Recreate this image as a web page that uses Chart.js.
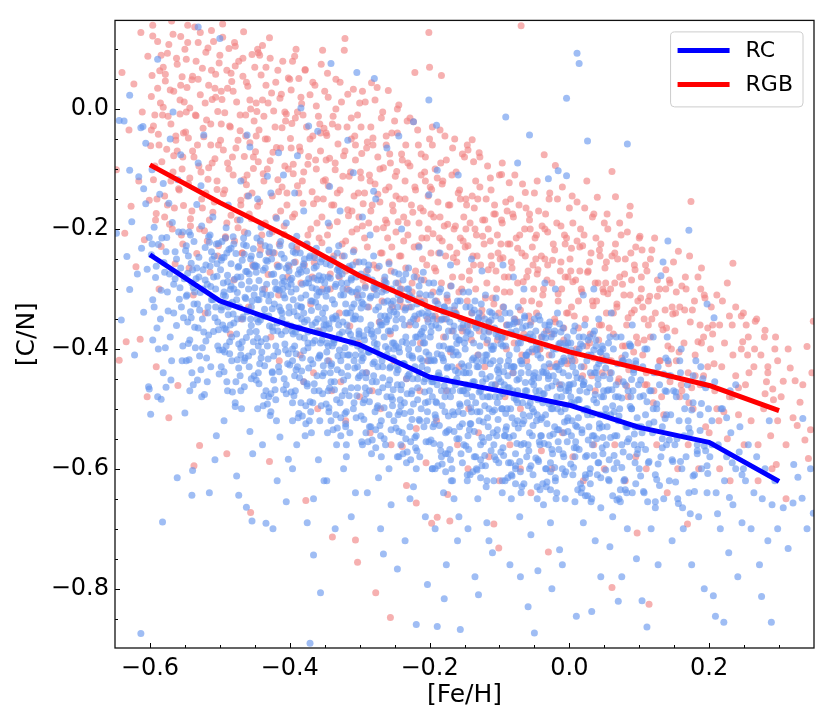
<!DOCTYPE html>
<html><head><meta charset="utf-8">
<script src="https://cdn.jsdelivr.net/npm/chart.js@4.4.0/dist/chart.umd.min.js"></script>
<style>html,body{margin:0;padding:0;background:#fff;}#wrap{width:830px;height:727px;}</style>
</head><body>
<div id="wrap"><canvas id="c" width="830" height="727"></canvas></div>
<script>
// ---- binned mean trends ----
const fehBins = [-0.6,-0.5,-0.4,-0.3,-0.2,-0.1,0.0,0.1,0.2,0.3];
const rcMean  = [-0.243,-0.320,-0.361,-0.393,-0.447,-0.470,-0.494,-0.531,-0.556,-0.621];
const rgbMean = [-0.093,-0.156,-0.214,-0.278,-0.330,-0.370,-0.405,-0.433,-0.461,-0.503];
const seriesNames = ['RC','RGB'];
const xMajorTicks = [-0.6,-0.4,-0.2,0.0,0.2];
const yMajorTicks = [-0.8,-0.6,-0.4,-0.2,0.0];
const axisTitles = ['[Fe/H]','[C/N]'];

// ---- individual stars, flat [Fe/H],[C/N] pairs ----
const rgbStars = [
-.648,-.101,-.644,-.419,-.640,.061,-.636,-.207,-.634,-.388,-.630,-.035,-.627,-.162,-.623,.042,-.620,-.263,-.616,-.120,-.614,-.384,-.611,-.005,-.608,-.218,-.604,-.480,-.603,.088,-.601,-.152,-.613,.128,
-.599,-.061,-.598,.021,-.596,.122,-.595,-.118,-.593,-.010,-.591,-.174,-.589,.113,-.588,-.042,-.586,.064,-.584,-.229,-.583,-.088,-.581,.003,-.579,-.145,-.578,.047,-.576,-.067,-.575,.093,-.573,.108,-.572,-.192,-.570,-.025,-.569,.147,-.567,-.105,-.566,.030,-.564,-.258,-.563,-.052,-.561,.075,-.560,-.461,-.559,-.133,-.557,-.008,-.556,.121,-.555,-.210,-.554,.054,-.553,-.080,-.552,-.161,-.551,.012,-.591,-.430,-.573,-.515,-.587,-.300,
-.549,-.038,-.548,.083,-.546,.111,-.545,-.124,-.543,.002,-.542,-.183,-.540,.049,-.539,-.070,-.537,-.595,-.536,.137,-.534,-.011,-.533,-.241,-.531,.111,-.530,-.095,-.529,-.561,-.528,.024,-.526,-.150,-.525,.068,-.523,-.046,-.522,-.203,-.520,.095,-.519,-.018,-.517,-.117,-.516,.040,-.514,-.272,-.513,-.060,-.511,.016,-.510,-.172,-.509,.113,-.507,-.083,-.506,.058,-.504,-.134,-.503,-.004,-.502,-.228,-.501,.077,-.538,-.310,-.521,-.340,-.512,.131,-.544,-.265,-.527,-.105,
-.499,-.052,-.498,.030,-.496,.142,-.495,-.141,-.493,-.006,-.492,-.213,-.490,.065,-.490,-.575,-.489,-.090,-.487,.101,-.486,-.028,-.484,-.177,-.483,.046,-.481,-.110,-.480,-.285,-.479,.111,-.477,-.065,-.476,.012,-.474,-.198,-.473,.080,-.471,-.036,-.470,-.152,-.468,-.240,-.467,.055,-.466,.129,-.465,-.079,-.463,-.010,-.462,-.126,-.460,.038,-.459,-.330,-.457,-.056,-.456,-.673,-.455,-.183,-.454,.091,-.452,-.099,-.451,-.020,-.450,-.263,-.485,-.375,-.469,-.350,-.478,.072,-.461,-.145,
-.449,-.071,-.448,.010,-.446,-.162,-.445,.094,-.444,-.035,-.442,-.225,-.441,.057,-.439,.106,-.438,-.108,-.437,-.012,-.435,-.190,-.434,.070,-.432,-.050,-.431,-.276,-.429,.119,-.429,-.588,-.428,-.086,-.426,.027,-.425,-.145,-.423,-.003,-.422,-.240,-.420,.045,-.419,-.064,-.417,-.118,-.416,-.310,-.414,.018,-.413,-.170,-.411,-.031,-.410,.080,-.408,-.209,-.407,-.095,-.405,-.008,-.404,-.140,-.403,-.360,-.402,.052,-.401,-.262,-.427,-.380,-.415,-.420,-.443,.090,-.436,-.300,
-.399,-.049,-.398,.032,-.396,-.180,-.395,-.092,-.393,.088,-.392,-.015,-.390,-.234,-.389,-.128,-.387,.051,-.386,-.063,-.384,-.290,-.383,.009,-.381,-.157,-.380,-.105,-.378,.066,-.377,-.653,-.376,-.030,-.374,-.210,-.373,-.079,-.371,.024,-.370,-.325,-.368,-.138,-.367,-.045,-.365,-.256,-.364,.040,-.362,-.100,-.361,-.190,-.359,-.012,-.358,-.370,-.356,-.070,-.355,.075,-.354,-.223,-.353,.098,-.352,-.150,-.351,-.032,-.385,-.410,-.366,-.440,-.391,.100,
-.349,-.118,-.348,-.040,-.346,-.210,-.345,.020,-.343,-.082,-.342,-.300,-.340,-.160,-.339,-.714,-.338,-.012,-.337,-.245,-.335,-.101,-.334,.050,-.332,-.188,-.331,-.058,-.329,-.340,-.328,-.135,-.326,.012,-.325,-.225,-.323,-.078,-.322,.098,-.321,.118,-.320,-.270,-.318,-.030,-.317,-.168,-.315,-.112,-.314,-.362,-.312,-.050,-.311,-.205,-.309,.033,-.308,-.145,-.306,-.719,-.306,-.085,-.305,-.255,-.303,-.756,-.303,-.010,-.302,-.390,-.301,-.180,-.344,-.420,-.327,-.455,
-.299,-.105,-.298,-.030,-.296,-.195,-.295,-.285,-.293,-.140,-.292,.012,-.290,-.065,-.289,-.230,-.287,-.330,-.286,-.110,-.284,-.170,-.283,.044,-.281,-.048,-.280,-.260,-.278,-.125,-.277,-.807,-.276,-.200,-.275,.036,-.274,-.080,-.272,-.355,-.271,-.155,-.269,-.015,-.268,-.240,-.266,-.098,-.265,-.300,-.263,-.185,-.262,-.060,-.260,-.215,-.259,.031,-.258,-.130,-.256,-.848,-.256,-.375,-.255,-.270,-.254,-.040,-.253,-.160,-.251,-.420,-.291,-.440,-.282,-.470,
-.249,-.112,-.248,-.205,-.246,-.040,-.245,-.290,-.244,.007,-.243,-.150,-.241,-.245,-.240,-.075,-.238,-.330,-.237,-.180,-.235,-.120,-.234,-.265,-.232,-.020,-.231,-.210,-.229,-.360,-.228,-.095,-.226,-.160,-.225,-.305,-.223,-.021,-.222,-.230,-.221,.061,-.220,-.135,-.219,-.657,-.218,-.280,-.216,-.060,-.215,-.190,-.213,-.390,-.212,-.110,-.210,-.250,-.209,-.170,-.207,-.320,-.206,-.080,-.204,-.215,-.203,-.420,-.202,-.145,-.201,.128,-.200,.070,-.233,-.450,-.214,-.470,
-.199,-.130,-.198,-.240,-.197,-.691,-.196,-.060,-.195,-.305,-.194,-.180,-.192,-.100,-.191,-.270,-.189,-.681,-.189,-.350,-.188,-.155,-.186,-.215,-.185,-.035,-.183,.056,-.183,-.290,-.182,-.125,-.180,-.380,-.179,-.195,-.177,-.245,-.176,-.085,-.174,-.320,-.173,-.160,-.171,-.687,-.171,-.230,-.170,-.405,-.168,-.110,-.167,-.280,-.165,-.200,-.164,-.050,-.162,-.340,-.161,-.255,-.159,-.140,-.158,-.430,-.156,-.215,-.154,-.300,-.153,-.075,-.152,-.365,-.151,-.180,-.176,-.470,
-.149,-.230,-.148,-.150,-.146,-.320,-.145,-.068,-.143,-.270,-.142,-.190,-.140,-.385,-.139,-.051,-.138,-.245,-.137,-.088,-.136,-.165,-.134,-.300,-.133,-.210,-.131,-.410,-.129,-.073,-.128,-.130,-.127,-.260,-.125,-.345,-.124,-.185,-.122,-.225,-.121,-.430,-.119,-.150,-.118,-.290,-.116,-.200,-.115,-.370,-.113,-.115,-.112,-.245,-.110,-.315,-.108,-.692,-.108,-.175,-.106,-.460,-.105,-.270,-.103,-.210,-.101,-.732,-.101,-.340,-.144,-.500,
-.099,-.250,-.097,-.109,-.096,-.190,-.095,-.330,-.093,-.280,-.091,-.155,-.090,-.400,-.088,-.225,-.086,-.123,-.085,-.305,-.083,-.255,-.081,-.440,-.080,-.180,-.078,-.350,-.076,-.215,-.074,-.290,-.072,-.160,-.071,-.380,-.069,.139,-.068,-.240,-.066,-.320,-.064,-.200,-.063,-.139,-.061,-.420,-.059,-.270,-.057,-.175,-.055,-.355,-.053,-.230,-.051,-.300,-.092,-.480,-.070,-.500,
-.049,-.215,-.047,-.340,-.046,-.275,-.044,-.170,-.042,-.400,-.040,-.245,-.038,-.310,-.036,-.076,-.035,-.200,-.033,-.370,-.031,-.260,-.030,-.739,-.029,-.150,-.027,-.430,-.025,-.290,-.023,-.225,-.021,-.350,-.020,-.094,-.018,-.190,-.016,-.320,-.014,-.460,-.012,-.255,-.010,-.130,-.008,-.385,-.006,-.280,-.004,-.215,-.002,-.340,-.001,-.420,
.001,-.250,.003,-.330,.005,-.190,.007,-.410,.009,-.285,.011,-.155,.013,-.365,.015,-.230,.017,-.300,.019,-.445,.021,-.210,.023,-.350,.025,-.120,.027,-.270,.029,-.390,.031,-.240,.033,-.320,.035,-.175,.037,-.470,.040,-.147,.041,-.290,.043,-.360,.045,-.225,.047,-.415,.049,-.305,
.051,-.265,.053,-.340,.055,-.200,.057,-.420,.059,-.300,.061,-.104,.061,-.798,.063,-.375,.065,-.240,.066,-.146,.068,-.330,.070,-.455,.072,-.280,.074,-.210,.076,-.395,.078,-.310,.080,-.250,.082,-.360,.084,-.480,.086,-.177,.087,-.162,.089,-.285,.091,-.430,.093,-.335,.095,-.230,.097,-.707,.098,-.390,
.101,-.212,.103,-.300,.105,-.410,.107,-.350,.109,-.260,.111,-.460,.113,-.320,.114,-.826,.116,-.380,.118,-.235,.120,-.490,.123,-.340,.126,-.285,.129,-.420,.132,-.360,.135,-.510,.138,-.300,.141,-.395,.144,-.455,.147,-.330,.149,-.255,
.151,-.370,.153,-.420,.156,-.237,.158,-.330,.161,-.470,.164,-.390,.167,-.300,.169,-.692,.170,-.440,.173,-.355,.174,-.154,.177,-.500,.180,-.410,.184,-.280,.187,-.460,.189,-.265,.192,-.380,.195,-.530,.198,-.430,
.202,-.400,.205,-.360,.208,-.470,.211,-.310,.214,-.520,.218,-.430,.222,-.390,.226,-.550,.229,-.480,.233,-.360,.234,-.257,.238,-.445,.242,-.510,.246,-.400,.249,-.340,
.252,-.460,.256,-.380,.260,-.520,.264,-.430,.266,-.354,.270,-.560,.274,-.410,.278,-.500,.280,-.369,.280,-.475,.284,-.440,.288,-.545,.291,-.467,.294,-.400,.296,-.593,.298,-.520,
.303,-.480,.306,-.454,.310,-.560,.313,-.400,.316,-.432,.320,-.515,.323,-.453,.326,-.528,.330,-.489,.334,-.460,.337,-.552,.340,-.396,.342,-.583,.345,-.535,.347,-.440,.349,-.354,
-.380,-.455,-.360,-.500,-.340,-.470,-.320,-.520,-.300,-.480,-.285,-.540,-.270,-.500,-.255,-.560,-.239,-.563,-.233,-.628,-.219,-.533,-.205,-.590,-.190,-.520,-.174,-.643,-.160,-.560,-.145,-.600,-.130,-.540,-.115,-.580,-.100,-.620,-.085,-.560,-.070,-.600,-.055,-.640,-.040,-.570,-.025,-.600,-.010,-.540,.005,-.580,.020,-.620,.035,-.560,.050,-.600,.065,-.560,.080,-.620,.095,-.580,.110,-.600,.125,-.560,.140,-.640,.155,-.600,.170,-.560,.185,-.600,.200,-.540,.215,-.600,.230,-.620,.250,-.560,.270,-.620,.290,-.600,.310,-.650,
-.571,.032,-.593,-.095,-.558,-.135,-.585,.010,-.566,-.078,-.597,.056,-.552,-.040,-.579,-.180,-.562,.085,-.590,-.150,-.574,-.012,-.556,.040,-.587,-.060,-.568,-.200,-.595,-.028,-.554,-.100,-.581,.070,-.565,-.165,
-.521,.010,-.543,-.115,-.508,-.155,-.535,-.010,-.516,-.098,-.547,.036,-.502,-.060,-.529,-.200,-.512,.065,-.540,-.170,-.524,-.032,-.506,.020,-.537,-.080,-.518,-.220,-.545,-.048,-.504,-.120,-.531,.050,-.515,-.185,
-.471,-.010,-.493,-.135,-.458,-.175,-.485,-.030,-.466,-.118,-.497,.016,-.452,-.080,-.479,-.220,-.462,.045,-.490,-.190,-.474,-.052,-.456,.000,-.487,-.100,-.468,-.240,-.495,-.068,-.454,-.140,-.481,.030,-.465,-.205,
-.421,-.030,-.443,-.155,-.408,-.195,-.435,-.050,-.416,-.138,-.447,-.004,-.402,-.100,-.429,-.240,-.412,.025,-.440,-.210,-.424,-.072,-.406,-.020,-.437,-.120,-.418,-.260,-.445,-.088,-.404,-.160,-.431,.010,-.415,-.225,
-.371,-.050,-.393,-.175,-.358,-.215,-.385,-.070,-.366,-.158,-.397,-.024,-.352,-.120,-.379,-.260,-.362,.005,-.390,-.230,-.374,-.092,-.356,-.040,-.387,-.140,-.368,-.280,-.395,-.108,-.354,-.180,-.381,-.010,-.365,-.245,
-.321,-.070,-.343,-.195,-.308,-.235,-.335,-.090,-.316,-.178,-.347,-.044,-.302,-.140,-.329,-.280,-.312,-.015,-.340,-.250,-.324,-.112,-.306,-.060,-.337,-.160,-.318,-.300,-.345,-.128,-.304,-.200,-.331,-.030,-.315,-.265,
-.271,-.100,-.293,-.215,-.258,-.255,-.285,-.120,-.266,-.198,-.297,-.074,-.252,-.170,-.279,-.300,-.262,-.045,-.290,-.270,-.274,-.142,-.256,-.090,-.287,-.190,-.268,-.320,-.295,-.158,-.254,-.230,-.281,-.060,-.265,-.285,
-.221,-.130,-.243,-.245,-.208,-.285,-.235,-.150,-.216,-.228,-.247,-.104,-.202,-.200,-.229,-.330,-.212,-.075,-.240,-.300,-.224,-.172,-.206,-.120,-.237,-.220,-.218,-.350,-.245,-.188,-.204,-.260,-.231,-.090,-.215,-.315,
-.171,-.160,-.193,-.265,-.158,-.305,-.185,-.180,-.166,-.248,-.197,-.134,-.152,-.220,-.179,-.350,-.162,-.105,-.190,-.320,-.174,-.192,-.156,-.150,-.187,-.240,-.168,-.370,-.195,-.208,-.154,-.280,-.181,-.120,-.165,-.335,
-.121,-.185,-.143,-.285,-.108,-.325,-.135,-.200,-.116,-.268,-.147,-.160,-.102,-.240,-.129,-.370,-.112,-.135,-.140,-.340,-.124,-.212,-.106,-.175,-.137,-.260,-.118,-.390,-.145,-.228,-.104,-.300,-.131,-.150,-.115,-.355,
-.071,-.210,-.093,-.305,-.058,-.345,-.085,-.225,-.066,-.288,-.097,-.185,-.052,-.260,-.079,-.390,-.062,-.165,-.090,-.360,-.074,-.232,-.056,-.200,-.087,-.280,-.068,-.410,-.095,-.248,-.054,-.320,-.081,-.175,-.065,-.375,
-.021,-.235,-.043,-.325,-.008,-.365,-.035,-.250,-.016,-.308,-.047,-.210,-.002,-.280,-.029,-.410,-.012,-.195,-.040,-.380,-.024,-.252,-.006,-.225,-.037,-.300,-.018,-.425,-.045,-.268,-.004,-.340,-.031,-.205,-.015,-.395,
.029,-.255,.007,-.345,.042,-.385,.015,-.270,.034,-.328,.003,-.232,.048,-.300,.021,-.430,.038,-.215,.010,-.400,.026,-.272,.044,-.245,.013,-.320,.032,-.445,.005,-.288,.046,-.360,.019,-.228,.035,-.415,
.079,-.275,.057,-.365,.092,-.405,.065,-.290,.084,-.348,.053,-.255,.098,-.320,.071,-.450,.088,-.240,.060,-.420,.076,-.292,.094,-.268,.063,-.340,.082,-.462,.055,-.308,.096,-.380,.069,-.250,.085,-.435,
.129,-.300,.107,-.385,.142,-.425,.115,-.312,.134,-.368,.103,-.280,.148,-.342,.121,-.470,.138,-.268,.110,-.440,.126,-.312,.144,-.290,.113,-.360,.132,-.480,.105,-.330,.146,-.400,
.179,-.320,.157,-.405,.192,-.445,.165,-.335,.184,-.388,.153,-.305,.198,-.365,.171,-.490,.188,-.300,.160,-.460,.176,-.335,.194,-.315,
.229,-.345,.207,-.425,.242,-.465,.215,-.360,.234,-.410,.203,-.330,.248,-.388,.221,-.505,.238,-.330,
.279,-.380,.257,-.440,.292,-.485,.265,-.400,.284,-.430,.253,-.360,.298,-.420,
-.598,-.035,-.584,.090,-.570,-.120,-.557,.015,-.592,-.185,-.578,.058,-.563,-.045,-.550,.100,-.589,.035,-.575,-.160,-.561,-.070,-.596,.140,-.582,-.010,-.567,.125,-.553,-.225,
-.548,-.005,-.534,.080,-.520,-.140,-.507,.035,-.542,-.195,-.528,.128,-.513,-.025,-.500,.090,-.539,.055,-.525,-.165,-.511,-.090,-.546,.140,-.532,-.060,-.517,.102,-.503,-.245,
-.498,-.025,-.484,.060,-.470,-.160,-.457,.015,-.492,-.215,-.478,.105,-.463,-.045,-.450,.070,-.489,.035,-.475,-.185,-.461,-.110,-.496,.120,-.482,-.080,-.467,.085,-.453,-.260,
-.448,-.045,-.434,.040,-.420,-.180,-.407,-.005,-.442,-.235,-.428,.085,-.413,-.065,-.400,.050,-.439,.015,-.425,-.205,-.411,-.130,-.446,.100,-.432,-.100,-.417,.065,-.403,-.280,
-.398,-.065,-.384,.020,-.370,-.200,-.357,-.025,-.392,-.255,-.378,.065,-.363,-.085,-.350,.030,-.389,-.005,-.375,-.225,-.361,-.150,-.396,.080,-.382,-.120,-.367,.045,-.353,-.300,
-.348,-.085,-.334,.000,-.320,-.220,-.307,-.045,-.342,-.275,-.328,.045,-.313,-.105,-.300,.010,-.339,-.025,-.325,-.245,-.311,-.170,-.346,.060,-.332,-.140,-.317,.025,-.303,-.310,
-.298,-.115,-.284,-.030,-.270,-.240,-.257,-.075,-.292,-.295,-.278,.015,-.263,-.135,-.250,-.020,-.289,-.055,-.275,-.265,-.261,-.190,-.296,.030,-.282,-.160,-.267,-.005,-.253,-.330,
-.248,-.145,-.234,-.060,-.220,-.270,-.207,-.105,-.242,-.320,-.228,-.015,-.213,-.165,-.200,-.050,-.239,-.085,-.225,-.290,-.211,-.215,-.246,.000,-.232,-.190,-.217,-.035,-.203,-.350,
-.198,-.175,-.184,-.090,-.170,-.295,-.157,-.135,-.192,-.345,-.178,-.045,-.163,-.195,-.150,-.080,-.189,-.115,-.175,-.315,-.161,-.240,-.196,-.030,-.182,-.220,-.167,-.065,-.153,-.370,
-.148,-.200,-.134,-.120,-.120,-.315,-.107,-.160,-.142,-.360,-.128,-.080,-.113,-.220,-.100,-.110,-.139,-.145,-.125,-.335,-.111,-.260,-.146,-.060,-.132,-.245,-.117,-.095,-.103,-.385,
-.098,-.225,-.084,-.150,-.070,-.335,-.057,-.185,-.092,-.380,-.078,-.110,-.063,-.245,-.050,-.140,-.089,-.170,-.075,-.355,-.061,-.280,-.096,-.090,-.082,-.265,-.067,-.125,-.053,-.405,
-.048,-.250,-.034,-.175,-.020,-.355,-.007,-.210,-.042,-.400,-.028,-.140,-.013,-.270,-.000,-.165,-.039,-.195,-.025,-.375,-.011,-.300,-.046,-.120,-.032,-.285,-.017,-.150,-.003,-.425,
.002,-.270,.016,-.200,.030,-.375,.043,-.235,.008,-.420,.022,-.165,.037,-.290,.050,-.190,.011,-.220,.025,-.395,.039,-.320,.004,-.145,.018,-.305,.033,-.180,.047,-.440,
.052,-.290,.066,-.225,.080,-.395,.093,-.260,.058,-.440,.072,-.190,.087,-.310,.100,-.215,.061,-.245,.075,-.415,.089,-.340,.054,-.175,.068,-.325,.083,-.205,
.102,-.315,.116,-.250,.130,-.420,.143,-.285,.108,-.460,.122,-.215,.137,-.335,.111,-.270,.125,-.440,.139,-.365,.104,-.235,.118,-.350,
.152,-.340,.166,-.280,.180,-.445,.193,-.310,.158,-.480,.172,-.245,.187,-.360,.161,-.295,.175,-.465,.189,-.390,
.205,-.375,.219,-.320,.233,-.480,.246,-.345,.211,-.500,.226,-.290,.255,-.410,.268,-.350,.282,-.455,.295,-.380
];

const rcStars = [
-.648,-.207,-.641,-.352,-.637,-.020,-.633,-.246,-.629,-.301,-.626,-.188,-.622,-.410,-.618,-.275,-.613,-.875,-.612,-.232,-.609,-.339,-.606,-.158,-.604,-.267,-.602,-.463,-.601,-.214,
-.629,.023,-.589,.083,-.531,.137,-.500,.118,-.613,-.031,-.606,-.057,-.616,-.113,-.629,-.102,-.609,-.133,-.567,-.005,-.461,-.043,-.457,-.063,-.556,-.076,-.644,-.019,-.610,-.029,-.573,-.157,-.581,-.124,
-.416,-.073,-.389,-.078,-.373,-.028,-.360,-.037,-.317,-.052,-.261,-.065,-.244,-.045,-.409,-.110,-.384,.002,-.280,-.137,-.309,-.106,-.343,-.129,-.201,-.143,-.189,-.102,-.159,-.110,-.459,-.145,
-.598,-.243,-.596,-.318,-.594,-.197,-.592,-.281,-.590,-.365,-.588,-.226,-.586,-.142,-.584,-.302,-.582,-.689,-.580,-.256,-.578,-.398,-.576,-.214,-.574,-.337,-.572,-.275,-.570,-.452,-.568,-.189,-.566,-.292,-.564,-.238,-.562,-.361,-.560,-.118,-.558,-.317,-.556,-.265,-.554,-.420,-.553,-.205,-.552,-.348,-.551,-.283,-.550,-.507,-.597,-.101,-.571,-.050,-.589,-.480,-.599,-.509,-.577,-.464,-.584,-.484,-.601,-.467,-.561,-.615,
-.549,-.236,-.548,-.312,-.546,-.274,-.545,-.391,-.544,-.205,-.542,-.338,-.541,-.257,-.540,-.440,-.538,-.298,-.537,-.221,-.536,-.364,-.534,-.283,-.533,-.159,-.532,-.325,-.530,-.247,-.529,-.412,-.528,-.306,-.526,-.195,-.525,-.350,-.524,-.268,-.522,-.476,-.521,-.231,-.520,-.387,-.518,-.292,-.517,-.340,-.516,-.213,-.514,-.262,-.513,-.430,-.512,-.318,-.510,-.180,-.509,-.371,-.508,-.245,-.506,-.300,-.505,-.545,-.504,-.279,-.503,-.355,-.502,-.224,-.501,-.402,-.527,-.128,-.539,-.603,-.515,-.640,-.531,-.090,-.543,-.470,-.507,-.585,-.523,-.043,-.540,-.644,
-.499,-.268,-.498,-.335,-.497,-.221,-.496,-.402,-.495,-.290,-.494,-.247,-.493,-.366,-.492,-.312,-.491,-.198,-.490,-.455,-.489,-.277,-.488,-.343,-.487,-.234,-.486,-.388,-.485,-.301,-.484,-.258,-.483,-.420,-.482,-.322,-.481,-.213,-.480,-.357,-.479,-.284,-.478,-.496,-.477,-.241,-.476,-.375,-.475,-.306,-.474,-.264,-.473,-.432,-.472,-.330,-.471,-.185,-.470,-.398,-.469,-.293,-.468,-.252,-.467,-.347,-.466,-.226,-.465,-.463,-.464,-.314,-.463,-.271,-.462,-.381,-.461,-.338,-.460,-.207,-.459,-.412,-.458,-.287,-.457,-.538,-.456,-.250,-.455,-.361,-.454,-.320,-.453,-.575,-.452,-.233,-.451,-.445,-.450,-.298,-.488,-.160,-.476,-.612,-.462,-.664,-.494,-.520,-.470,-.120,-.473,-.644,-.454,-.687,
-.449,-.262,-.448,-.371,-.447,-.215,-.446,-.318,-.445,-.440,-.444,-.286,-.443,-.243,-.442,-.352,-.441,-.197,-.440,-.405,-.439,-.301,-.438,-.269,-.437,-.478,-.436,-.334,-.435,-.228,-.434,-.383,-.433,-.292,-.432,-.254,-.431,-.417,-.430,-.345,-.429,-.208,-.428,-.511,-.427,-.310,-.426,-.276,-.425,-.364,-.424,-.239,-.423,-.452,-.422,-.325,-.421,-.289,-.420,-.395,-.419,-.182,-.418,-.357,-.417,-.263,-.416,-.430,-.415,-.302,-.414,-.547,-.413,-.221,-.412,-.376,-.411,-.340,-.410,-.281,-.409,-.468,-.408,-.249,-.407,-.315,-.406,-.402,-.405,-.190,-.404,-.359,-.403,-.296,-.402,-.584,-.401,-.270,-.400,-.427,-.446,-.150,-.432,-.112,-.418,-.620,-.405,-.655,-.439,-.560,-.424,-.700,-.434,-.691,-.427,-.140,
-.495,-.310,-.485,-.360,-.475,-.280,-.465,-.420,-.455,-.330,-.445,-.395,-.435,-.265,-.425,-.440,-.415,-.330,-.405,-.460,-.490,-.240,-.470,-.410,-.450,-.260,-.430,-.480,-.410,-.300,
-.399,-.285,-.398,-.362,-.397,-.228,-.396,-.420,-.395,-.318,-.394,-.256,-.393,-.395,-.392,-.470,-.391,-.300,-.390,-.212,-.389,-.345,-.388,-.275,-.387,-.508,-.386,-.380,-.385,-.240,-.384,-.330,-.383,-.437,-.382,-.292,-.381,-.262,-.380,-.403,-.379,-.355,-.378,-.545,-.377,-.310,-.376,-.225,-.375,-.462,-.374,-.372,-.373,-.283,-.372,-.248,-.371,-.891,-.370,-.418,-.369,-.336,-.368,-.298,-.367,-.490,-.366,-.744,-.365,-.265,-.364,-.386,-.363,-.322,-.362,-.232,-.361,-.445,-.360,-.350,-.359,-.585,-.358,-.278,-.357,-.410,-.356,-.807,-.355,-.305,-.354,-.250,-.353,-.475,-.352,-.368,-.351,-.620,-.350,-.290,-.393,-.140,-.380,-.170,-.366,-.650,-.390,-.560,-.375,-.690,-.357,-.520,-.396,-.600,
-.398,-.305,-.395,-.238,-.392,-.372,-.389,-.430,-.386,-.268,-.383,-.350,-.380,-.455,-.377,-.290,-.374,-.398,-.371,-.245,-.368,-.360,-.365,-.470,-.362,-.300,-.359,-.415,-.356,-.255,-.353,-.340,-.351,-.440,-.396,-.490,-.384,-.315,-.372,-.520,-.360,-.285,-.354,-.385,
-.349,-.332,-.348,-.258,-.347,-.405,-.346,-.300,-.345,-.470,-.344,-.235,-.343,-.366,-.342,-.282,-.341,-.520,-.340,-.425,-.339,-.318,-.338,-.250,-.337,-.390,-.336,-.455,-.335,-.296,-.334,-.345,-.333,-.560,-.332,-.268,-.331,-.412,-.330,-.228,-.329,-.376,-.328,-.490,-.327,-.310,-.326,-.440,-.325,-.275,-.324,-.355,-.323,-.600,-.322,-.245,-.321,-.398,-.320,-.325,-.319,-.505,-.318,-.290,-.317,-.430,-.316,-.370,-.315,-.262,-.314,-.540,-.313,-.340,-.312,-.465,-.311,-.305,-.310,-.385,-.309,-.238,-.308,-.420,-.307,-.350,-.306,-.640,-.305,-.280,-.304,-.478,-.303,-.395,-.302,-.315,-.301,-.255,-.300,-.445,-.341,.076,-.304,.061,-.345,-.190,-.328,-.170,-.312,-.680,-.335,-.700,-.319,-.580,-.347,-.620,
-.348,-.360,-.345,-.280,-.342,-.440,-.339,-.395,-.336,-.325,-.333,-.485,-.330,-.265,-.327,-.420,-.324,-.300,-.321,-.470,-.318,-.360,-.315,-.410,-.312,-.285,-.309,-.500,-.306,-.345,-.303,-.430,-.301,-.375,-.344,-.505,-.332,-.240,-.320,-.530,-.310,-.260,-.338,-.350,
-.299,-.350,-.298,-.275,-.297,-.420,-.296,-.310,-.295,-.490,-.294,-.255,-.293,-.385,-.292,-.298,-.291,-.540,-.290,-.440,-.289,-.330,-.288,-.268,-.287,-.405,-.286,-.470,-.285,-.315,-.284,-.360,-.283,-.575,-.282,-.285,-.281,-.425,-.280,-.245,-.279,-.390,-.279,.051,-.278,-.505,-.277,-.335,-.276,-.455,-.275,-.295,-.274,-.370,-.273,-.615,-.272,-.262,-.271,-.410,-.270,-.345,-.269,-.520,-.268,-.305,-.267,-.448,-.266,-.742,-.265,-.380,-.264,-.280,-.263,-.560,-.262,-.355,-.261,-.480,-.260,-.320,-.259,-.400,-.258,-.258,-.257,-.432,-.256,-.370,-.255,-.660,-.254,-.300,-.253,-.495,-.252,-.415,-.251,-.338,-.250,-.272,-.296,-.180,-.285,-.210,-.270,-.700,-.258,-.600,-.289,-.640,-.277,-.150,
-.298,-.400,-.295,-.325,-.292,-.465,-.289,-.280,-.286,-.530,-.283,-.375,-.280,-.445,-.277,-.300,-.274,-.495,-.271,-.355,-.268,-.420,-.265,-.550,-.262,-.290,-.259,-.460,-.256,-.335,-.253,-.390,-.251,-.520,-.297,-.555,-.287,-.260,-.276,-.400,-.264,-.345,-.255,-.480,
-.249,-.365,-.248,-.290,-.247,-.440,-.246,-.767,-.246,-.330,-.245,-.510,-.244,-.275,-.243,-.405,-.242,-.318,-.241,-.560,-.240,-.460,-.239,-.350,-.238,-.285,-.237,-.425,-.236,-.490,-.235,-.335,-.234,-.380,-.233,-.590,-.232,-.300,-.231,-.445,-.230,-.265,-.229,-.410,-.228,-.530,-.227,-.355,-.226,-.475,-.225,-.315,-.224,-.390,-.223,-.630,-.222,-.280,-.221,-.430,-.220,-.360,-.219,-.860,-.219,-.545,-.218,-.325,-.217,-.465,-.216,-.400,-.215,-.295,-.214,-.580,-.213,-.375,-.212,-.500,-.211,-.340,-.210,-.420,-.209,-.272,-.208,-.455,-.207,-.390,-.206,-.680,-.205,-.310,-.204,-.520,-.203,-.793,-.203,-.435,-.202,-.355,-.201,.015,-.201,-.290,-.200,-.470,-.223,-.021,-.240,-.200,-.215,-.230,-.235,-.720,-.228,-.650,
-.248,-.395,-.245,-.310,-.242,-.485,-.239,-.540,-.236,-.360,-.233,-.450,-.230,-.300,-.227,-.505,-.224,-.415,-.221,-.345,-.218,-.570,-.215,-.440,-.212,-.285,-.209,-.380,-.206,-.490,-.203,-.330,-.201,-.555,-.244,-.580,-.234,-.275,-.225,-.470,-.214,-.520,-.205,-.405,
-.199,-.380,-.198,-.310,-.197,-.455,-.196,-.345,-.195,-.530,-.194,-.290,-.193,-.420,-.192,-.600,-.191,-.360,-.190,-.027,-.190,-.490,-.189,-.863,-.188,-.325,-.187,-.440,-.186,-.395,-.185,-.560,-.184,-.300,-.183,-.470,-.182,-.350,-.181,-.415,-.180,-.640,-.179,-.817,-.179,-.330,-.178,-.505,-.177,-.380,-.176,-.450,-.175,-.310,-.174,-.575,-.173,-.400,-.172,-.535,-.171,-.355,-.170,-.480,-.169,-.295,-.168,-.430,-.167,-.620,-.166,-.370,-.165,-.510,-.164,-.340,-.163,-.460,-.162,-.405,-.161,-.550,-.160,-.320,-.159,-.440,-.158,-.680,-.157,-.385,-.156,-.868,-.156,-.495,-.155,-.350,-.154,-.425,-.153,-.590,-.152,-.305,-.151,-.470,-.150,-.390,-.185,-.240,-.170,-.260,-.160,-.720,-.192,-.700,-.176,-.760,-.165,-.650,
-.198,-.420,-.195,-.350,-.192,-.510,-.189,-.460,-.186,-.305,-.183,-.580,-.180,-.395,-.177,-.540,-.174,-.430,-.171,-.335,-.168,-.600,-.165,-.455,-.162,-.380,-.159,-.505,-.156,-.320,-.153,-.470,-.151,-.560,-.196,-.600,-.187,-.365,-.178,-.480,-.166,-.410,-.157,-.530,
-.149,-.400,-.148,-.330,-.147,-.475,-.146,-.360,-.145,-.545,-.144,-.305,-.143,-.440,-.142,-.610,-.141,-.375,-.140,-.505,-.139,-.340,-.138,-.460,-.137,-.415,-.136,-.580,-.135,-.320,-.134,-.490,-.133,-.365,-.132,-.430,-.131,-.650,-.130,-.350,-.129,-.520,-.128,-.395,-.127,-.470,-.126,-.325,-.125,-.595,-.124,-.420,-.123,-.555,-.122,-.370,-.121,-.495,-.120,-.310,-.119,-.450,-.118,-.690,-.117,-.385,-.116,-.530,-.115,-.355,-.114,-.480,-.113,-.425,-.112,-.570,-.111,-.340,-.110,-.505,-.109,-.400,-.108,-.620,-.107,-.365,-.106,-.460,-.105,-.315,-.104,-.545,-.103,-.435,-.102,-.380,-.101,-.590,-.100,-.480,-.140,-.250,-.125,-.270,-.110,-.740,-.135,-.780,-.115,-.720,-.145,-.700,-.130,-.810,
-.148,-.440,-.145,-.370,-.142,-.525,-.139,-.480,-.136,-.335,-.133,-.600,-.130,-.410,-.127,-.560,-.124,-.455,-.121,-.350,-.118,-.620,-.115,-.500,-.112,-.395,-.109,-.540,-.106,-.345,-.103,-.490,-.101,-.430,-.146,-.620,-.137,-.390,-.128,-.505,-.119,-.420,-.107,-.580,
-.099,-.420,-.098,-.350,-.097,-.500,-.096,-.380,-.095,-.565,-.094,-.330,-.093,-.460,-.092,-.620,-.091,-.395,-.091,-.013,-.090,-.530,-.089,-.360,-.088,-.445,-.087,-.590,-.086,-.410,-.085,-.340,-.084,-.500,-.083,-.650,-.082,-.375,-.081,-.470,-.080,-.545,-.079,-.430,-.078,-.355,-.077,-.600,-.076,-.485,-.075,-.400,-.074,-.090,-.074,-.520,-.073,-.330,-.072,-.450,-.071,-.680,-.070,-.390,-.069,-.560,-.068,-.425,-.067,-.365,-.066,-.510,-.065,-.625,-.064,-.345,-.063,-.470,-.062,-.410,-.061,-.580,-.060,-.380,-.059,-.830,-.059,-.495,-.058,-.440,-.057,-.043,-.057,-.540,-.056,-.360,-.055,-.710,-.054,-.455,-.053,-.400,-.052,-.610,-.051,-.505,-.050,-.874,-.050,-.350,-.095,-.260,-.080,-.280,-.065,-.300,-.085,-.760,-.070,-.780,
-.098,-.455,-.095,-.395,-.092,-.545,-.089,-.500,-.086,-.360,-.083,-.610,-.080,-.430,-.077,-.575,-.074,-.470,-.071,-.355,-.068,-.630,-.065,-.520,-.062,-.410,-.059,-.560,-.056,-.375,-.053,-.500,-.051,-.445,-.096,-.640,-.087,-.420,-.078,-.525,-.069,-.440,-.057,-.600,
-.049,-.440,-.048,-.370,-.047,-.520,-.046,-.400,-.045,-.585,-.044,-.345,-.043,-.470,-.042,-.635,-.041,-.415,-.040,-.545,-.039,-.380,-.038,-.490,-.037,-.660,-.036,-.430,-.035,-.360,-.034,-.510,-.033,-.600,-.032,-.395,-.031,-.465,-.030,-.116,-.030,-.560,-.029,-.425,-.028,-.355,-.027,-.690,-.026,-.500,-.025,-.410,-.024,-.575,-.023,-.445,-.022,-.375,-.021,-.530,-.020,-.620,-.019,-.400,-.018,-.480,-.017,-.340,-.016,-.103,-.016,-.555,-.015,-.435,-.014,-.735,-.013,-.390,-.012,-.505,-.011,-.460,-.010,-.600,-.009,-.365,-.008,-.540,-.007,-.420,-.006,-.650,-.005,-.470,-.004,-.111,-.004,.018,-.003,-.380,-.002,-.515,-.001,-.445,-.035,-.290,-.020,-.300,-.045,-.770,-.025,-.800,-.010,-.760,
-.048,-.470,-.045,-.410,-.042,-.560,-.039,-.515,-.036,-.375,-.033,-.630,-.030,-.445,-.027,-.590,-.024,-.490,-.021,-.370,-.018,-.640,-.015,-.535,-.012,-.425,-.009,-.575,-.006,-.390,-.003,-.520,-.001,-.465,-.046,-.650,-.037,-.440,-.028,-.545,-.019,-.455,-.007,-.610,
.001,-.460,.002,-.390,.003,-.545,.004,-.420,.005,-.610,.006,-.370,.007,-.490,.008,-.655,.009,-.440,.010,-.846,.010,-.565,.011,.093,.012,-.405,.013,-.515,.014,.076,.014,-.380,.015,-.470,.016,-.625,.017,-.430,.018,-.540,.019,-.395,.020,-.690,.021,-.455,.022,-.360,.023,-.580,.024,-.500,.025,-.420,.026,-.053,.026,-.645,.027,-.385,.028,-.530,.029,-.465,.030,-.600,.031,-.410,.032,-.838,.033,-.560,.034,-.375,.035,-.485,.036,-.440,.037,-.720,.038,-.395,.039,-.550,.040,-.610,.041,-.460,.042,-.350,.043,-.525,.044,-.420,.045,-.665,.046,-.480,.047,-.395,.048,-.575,.049,-.445,.050,-.510,.020,-.310,.035,-.300,.045,-.780,
.002,-.480,.005,-.430,.008,-.580,.011,-.530,.014,-.400,.017,-.640,.020,-.460,.023,-.610,.026,-.500,.029,-.380,.032,-.650,.035,-.545,.038,-.440,.041,-.590,.044,-.405,.047,-.530,.049,-.480,
.051,-.420,.053,-.560,.054,-.470,.056,-.390,.057,-.620,.059,-.510,.060,-.440,.062,-.680,.063,-.400,.065,-.545,.066,-.480,.068,-.590,.069,-.425,.070,-.821,.071,-.650,.072,-.500,.074,-.380,.075,-.560,.077,-.455,.078,-.620,.080,-.410,.081,-.530,.083,-.058,.083,-.700,.084,-.470,.086,-.580,.087,-.395,.089,-.500,.090,-.640,.092,-.440,.093,-.560,.095,-.420,.096,-.750,.097,-.515,.099,-.460,.100,-.600,.060,-.340,.090,-.360,.075,-.780,.058,-.730,
.052,-.500,.058,-.450,.064,-.600,.070,-.520,.076,-.420,.082,-.640,.088,-.480,.094,-.590,.099,-.530,.067,-.380,.085,-.550,
.101,-.480,.103,-.560,.104,-.820,.105,-.430,.107,-.640,.109,-.510,.111,-.864,.111,-.400,.113,-.590,.115,-.470,.117,-.700,.119,-.540,.121,-.440,.123,-.610,.125,-.500,.127,-.760,.129,-.460,.131,-.278,.131,-.580,.133,-.530,.134,-.255,.135,-.650,.137,-.470,.139,-.560,.141,-.220,.141,-.420,.143,-.620,.145,-.510,.147,-.720,.149,-.470,.120,-.380,.140,-.380,
.151,-.560,.153,-.480,.155,-.650,.157,-.520,.159,-.440,.161,-.600,.163,-.700,.165,-.500,.167,-.580,.169,-.460,.171,-.202,.171,-.640,.173,-.540,.175,-.760,.177,-.490,.179,-.610,.181,-.420,.183,-.560,.185,-.680,.187,-.510,.189,-.600,.191,-.450,.193,-.800,.195,-.570,.197,-.325,.197,-.640,.199,-.500,.160,-.400,
.201,-.580,.204,-.520,.206,-.812,.207,-.348,.209,-.846,.210,-.640,.213,-.560,.216,-.700,.219,-.500,.221,-.856,.222,-.620,.225,-.580,.228,-.740,.231,-.540,.234,-.660,.238,-.600,.241,-.780,.244,-.530,.247,-.690,.249,-.600,.230,-.470,
.252,-.620,.256,-.560,.260,-.700,.264,-.640,.268,-.580,.272,-.760,.275,-.813,.276,-.650,.280,-.600,.284,-.720,.289,-.856,.290,-.660,.294,-.620,.298,-.700,.286,-.520,
.306,-.665,.313,-.733,.320,-.657,.321,-.593,.327,-.614,.333,-.649,.334,-.516,.340,-.700,.349,-.674,.345,-.600,
-.557,-.298,-.583,-.215,-.571,-.380,-.594,-.330,-.562,-.250,-.588,-.400,-.566,-.340,-.579,-.272,-.553,-.395,-.597,-.225,-.575,-.305,-.585,-.350,-.559,-.205,-.569,-.420,-.591,-.262,-.577,-.238,-.555,-.330,-.581,-.440,-.564,-.283,-.596,-.385,
-.507,-.348,-.533,-.265,-.519,-.415,-.546,-.355,-.512,-.238,-.538,-.460,-.524,-.300,-.501,-.442,-.542,-.210,-.516,-.377,-.529,-.335,-.504,-.258,-.548,-.420,-.521,-.285,-.535,-.398,-.510,-.318,-.526,-.480,-.540,-.290,-.514,-.210,-.531,-.365,-.503,-.395,-.545,-.245,-.518,-.455,-.537,-.325,-.509,-.280,
-.457,-.372,-.484,-.295,-.471,-.445,-.496,-.360,-.462,-.228,-.489,-.470,-.476,-.318,-.453,-.405,-.492,-.215,-.468,-.388,-.481,-.342,-.458,-.275,-.498,-.430,-.473,-.262,-.486,-.408,-.461,-.335,-.478,-.490,-.494,-.305,-.466,-.215,-.483,-.380,-.455,-.450,-.497,-.248,-.470,-.470,-.488,-.330,-.459,-.300,-.480,-.225,-.464,-.415,-.491,-.395,-.475,-.350,-.452,-.262,
-.407,-.392,-.433,-.310,-.421,-.468,-.446,-.382,-.412,-.242,-.438,-.495,-.425,-.333,-.403,-.425,-.442,-.220,-.417,-.405,-.429,-.362,-.408,-.287,-.448,-.452,-.423,-.275,-.436,-.428,-.411,-.350,-.427,-.505,-.444,-.318,-.414,-.228,-.432,-.395,-.405,-.475,-.447,-.262,-.420,-.485,-.438,-.345,-.409,-.310,-.430,-.238,-.415,-.438,-.441,-.415,-.424,-.370,-.402,-.260,-.434,-.470,-.418,-.300,-.445,-.355,-.426,-.250,-.401,-.340,
-.357,-.412,-.383,-.330,-.371,-.488,-.396,-.400,-.362,-.262,-.388,-.515,-.375,-.352,-.353,-.445,-.392,-.240,-.367,-.425,-.379,-.382,-.358,-.305,-.398,-.472,-.373,-.290,-.386,-.448,-.361,-.370,-.377,-.525,-.394,-.338,-.364,-.248,-.382,-.415,-.355,-.495,-.397,-.282,-.370,-.505,-.388,-.365,-.359,-.330,-.380,-.258,-.365,-.458,-.391,-.435,-.374,-.390,-.352,-.280,-.384,-.490,-.368,-.320,-.395,-.375,-.376,-.270,-.351,-.360,
-.307,-.432,-.333,-.350,-.321,-.508,-.346,-.420,-.312,-.282,-.338,-.535,-.325,-.372,-.303,-.465,-.342,-.260,-.317,-.445,-.329,-.402,-.308,-.325,-.348,-.492,-.323,-.310,-.336,-.468,-.311,-.390,-.327,-.545,-.344,-.358,-.314,-.268,-.332,-.435,-.305,-.515,-.347,-.302,-.320,-.525,-.338,-.385,-.309,-.350,-.330,-.278,-.315,-.478,-.341,-.455,-.324,-.410,-.302,-.300,-.334,-.510,-.318,-.340,-.345,-.395,-.326,-.290,-.301,-.380,
-.257,-.452,-.283,-.370,-.271,-.528,-.296,-.440,-.262,-.302,-.288,-.555,-.275,-.392,-.253,-.485,-.292,-.280,-.267,-.465,-.279,-.422,-.258,-.345,-.298,-.512,-.273,-.330,-.286,-.488,-.261,-.410,-.277,-.565,-.294,-.378,-.264,-.288,-.282,-.455,-.255,-.535,-.297,-.322,-.270,-.545,-.288,-.405,-.259,-.370,-.280,-.298,-.265,-.498,-.291,-.475,-.274,-.430,-.252,-.320,-.284,-.530,-.268,-.360,-.295,-.415,-.276,-.310,-.251,-.400,
-.207,-.472,-.233,-.390,-.221,-.548,-.246,-.460,-.212,-.322,-.238,-.575,-.225,-.412,-.203,-.505,-.242,-.300,-.217,-.485,-.229,-.442,-.208,-.365,-.248,-.532,-.223,-.350,-.236,-.508,-.211,-.430,-.227,-.585,-.244,-.398,-.214,-.308,-.232,-.475,-.205,-.555,-.247,-.342,-.220,-.565,-.238,-.425,-.209,-.390,-.230,-.318,-.215,-.518,-.241,-.495,-.224,-.450,-.202,-.340,-.234,-.550,-.218,-.380,-.245,-.435,-.226,-.330,-.201,-.420,
-.157,-.492,-.183,-.410,-.171,-.568,-.196,-.480,-.162,-.342,-.188,-.595,-.175,-.432,-.153,-.525,-.192,-.320,-.167,-.505,-.179,-.462,-.158,-.385,-.198,-.552,-.173,-.370,-.186,-.528,-.161,-.450,-.177,-.605,-.194,-.418,-.164,-.328,-.182,-.495,-.155,-.575,-.197,-.362,-.170,-.585,-.188,-.445,-.159,-.410,-.180,-.338,-.165,-.538,-.191,-.515,-.174,-.470,-.152,-.360,-.184,-.570,-.168,-.400,-.195,-.455,-.176,-.350,-.151,-.440,
-.107,-.502,-.133,-.420,-.121,-.578,-.146,-.490,-.112,-.352,-.138,-.605,-.125,-.442,-.103,-.535,-.142,-.330,-.117,-.515,-.129,-.472,-.108,-.395,-.148,-.562,-.123,-.380,-.136,-.538,-.111,-.460,-.127,-.615,-.144,-.428,-.114,-.338,-.132,-.505,-.105,-.585,-.147,-.372,-.120,-.595,-.138,-.455,-.109,-.420,-.130,-.348,-.115,-.548,-.141,-.525,-.124,-.480,-.102,-.370,-.134,-.580,-.118,-.410,-.145,-.465,-.126,-.360,-.101,-.450,
-.057,-.512,-.083,-.430,-.071,-.588,-.096,-.500,-.062,-.362,-.088,-.615,-.075,-.452,-.053,-.545,-.092,-.340,-.067,-.525,-.079,-.482,-.058,-.405,-.098,-.572,-.073,-.390,-.086,-.548,-.061,-.470,-.077,-.625,-.094,-.438,-.064,-.348,-.082,-.515,-.055,-.595,-.097,-.382,-.070,-.605,-.088,-.465,-.059,-.430,-.080,-.358,-.065,-.558,-.091,-.535,-.074,-.490,-.052,-.380,-.084,-.590,-.068,-.420,-.095,-.475,-.076,-.370,-.051,-.460,
-.007,-.522,-.033,-.440,-.021,-.598,-.046,-.510,-.012,-.372,-.038,-.625,-.025,-.462,-.003,-.555,-.042,-.352,-.017,-.535,-.029,-.492,-.008,-.415,-.048,-.582,-.023,-.400,-.036,-.558,-.011,-.480,-.027,-.635,-.044,-.448,-.014,-.358,-.032,-.525,-.005,-.605,-.047,-.392,-.020,-.615,-.038,-.475,-.009,-.440,-.030,-.368,-.015,-.568,-.041,-.545,-.024,-.500,-.002,-.390,-.034,-.600,-.018,-.430,-.045,-.485,-.026,-.380,-.001,-.470,
.043,-.532,.017,-.450,.029,-.608,.004,-.520,.038,-.385,.012,-.635,.025,-.472,.047,-.565,.008,-.362,.033,-.545,.021,-.502,.042,-.425,.002,-.592,.027,-.410,.014,-.568,.039,-.490,.023,-.645,.006,-.458,.036,-.370,.018,-.535,.045,-.615,.003,-.402,.030,-.625,.012,-.485,.041,-.450,.020,-.380,.035,-.578,.009,-.555,.026,-.510,.048,-.400,
.093,-.542,.067,-.460,.079,-.618,.054,-.530,.088,-.395,.062,-.645,.075,-.482,.097,-.575,.058,-.380,.083,-.555,.071,-.512,.092,-.435,.052,-.602,.077,-.420,.064,-.578,.089,-.500,.073,-.655,.056,-.468,.086,-.392,.068,-.545,.095,-.625,.053,-.412,.080,-.635,.062,-.495,.091,-.470,
.143,-.552,.117,-.470,.129,-.628,.104,-.540,.138,-.415,.112,-.655,.125,-.492,.147,-.585,.108,-.400,.133,-.565,.121,-.522,.142,-.445,.102,-.612,.127,-.430,.114,-.588,.139,-.510,.123,-.665,.106,-.478,
.193,-.562,.167,-.480,.179,-.638,.154,-.550,.188,-.430,.162,-.665,.175,-.502,.197,-.595,.158,-.420,.183,-.575,.171,-.532,.192,-.460,.152,-.622,.177,-.445,
.243,-.572,.217,-.500,.229,-.648,.204,-.560,.238,-.460,.212,-.675,.225,-.515,.247,-.610,.208,-.455,.233,-.590,
-.548,-.228,-.536,-.305,-.523,-.372,-.511,-.251,-.544,-.418,-.530,-.280,-.517,-.330,-.505,-.225,-.541,-.348,-.527,-.435,-.513,-.296,-.502,-.368,-.539,-.268,-.525,-.398,-.515,-.222,-.547,-.310,-.532,-.452,-.520,-.260,-.506,-.330,-.543,-.385,
-.498,-.252,-.486,-.325,-.473,-.392,-.461,-.271,-.494,-.438,-.480,-.300,-.467,-.350,-.455,-.245,-.491,-.368,-.477,-.455,-.463,-.316,-.452,-.388,-.489,-.288,-.475,-.418,-.465,-.242,-.497,-.330,-.482,-.472,-.470,-.280,-.456,-.350,-.493,-.405,-.458,-.430,-.484,-.232,-.469,-.500,-.451,-.310,
-.448,-.272,-.436,-.345,-.423,-.412,-.411,-.291,-.444,-.458,-.430,-.320,-.417,-.370,-.405,-.265,-.441,-.388,-.427,-.475,-.413,-.336,-.402,-.408,-.439,-.308,-.425,-.438,-.415,-.262,-.447,-.350,-.432,-.492,-.420,-.300,-.406,-.370,-.443,-.425,-.408,-.450,-.434,-.252,-.419,-.520,-.401,-.330,-.429,-.230,-.446,-.500,
-.398,-.292,-.386,-.365,-.373,-.432,-.361,-.311,-.394,-.478,-.380,-.340,-.367,-.390,-.355,-.285,-.391,-.408,-.377,-.495,-.363,-.356,-.352,-.428,-.389,-.328,-.375,-.458,-.365,-.282,-.397,-.370,-.382,-.512,-.370,-.320,-.356,-.390,-.393,-.445,-.358,-.470,-.384,-.272,-.369,-.540,-.351,-.350,-.379,-.250,-.396,-.520,
-.348,-.312,-.336,-.385,-.323,-.452,-.311,-.331,-.344,-.498,-.330,-.360,-.317,-.410,-.305,-.305,-.341,-.428,-.327,-.515,-.313,-.376,-.302,-.448,-.339,-.348,-.325,-.478,-.315,-.302,-.347,-.390,-.332,-.532,-.320,-.340,-.306,-.410,-.343,-.465,-.308,-.490,-.334,-.292,-.319,-.560,-.301,-.370,-.329,-.270,-.346,-.540,
-.298,-.332,-.286,-.405,-.273,-.472,-.261,-.351,-.294,-.518,-.280,-.380,-.267,-.430,-.255,-.325,-.291,-.448,-.277,-.535,-.263,-.396,-.252,-.468,-.289,-.368,-.275,-.498,-.265,-.322,-.297,-.410,-.282,-.552,-.270,-.360,-.256,-.430,-.293,-.485,-.258,-.510,-.284,-.312,-.269,-.580,-.251,-.390,-.279,-.290,-.296,-.560,
-.248,-.352,-.236,-.425,-.223,-.492,-.211,-.371,-.244,-.538,-.230,-.400,-.217,-.450,-.205,-.345,-.241,-.468,-.227,-.555,-.213,-.416,-.202,-.488,-.239,-.388,-.225,-.518,-.215,-.342,-.247,-.430,-.232,-.572,-.220,-.380,-.206,-.450,-.243,-.505,-.208,-.530,-.234,-.332,-.219,-.600,-.201,-.410,-.229,-.310,-.246,-.580,
-.198,-.372,-.186,-.445,-.173,-.512,-.161,-.391,-.194,-.558,-.180,-.420,-.167,-.470,-.155,-.365,-.191,-.488,-.177,-.575,-.163,-.436,-.152,-.508,-.189,-.408,-.175,-.538,-.165,-.362,-.197,-.450,-.182,-.592,-.170,-.400,-.156,-.470,-.193,-.525,-.158,-.550,-.184,-.352,-.169,-.620,-.151,-.430,-.179,-.330,-.196,-.600,
-.148,-.382,-.136,-.455,-.123,-.522,-.111,-.401,-.144,-.568,-.130,-.430,-.117,-.480,-.105,-.375,-.141,-.498,-.127,-.585,-.113,-.446,-.102,-.518,-.139,-.418,-.125,-.548,-.115,-.372,-.147,-.460,-.132,-.602,-.120,-.410,-.106,-.480,-.143,-.535,-.108,-.560,-.134,-.362,-.119,-.630,-.101,-.440,-.129,-.340,-.146,-.610,
-.098,-.392,-.086,-.465,-.073,-.532,-.061,-.411,-.094,-.578,-.080,-.440,-.067,-.490,-.055,-.385,-.091,-.508,-.077,-.595,-.063,-.456,-.052,-.528,-.089,-.428,-.075,-.558,-.065,-.382,-.097,-.470,-.082,-.612,-.070,-.420,-.056,-.490,-.093,-.545,-.058,-.570,-.084,-.372,-.069,-.640,-.051,-.450,-.079,-.350,-.096,-.620,
-.048,-.402,-.036,-.475,-.023,-.542,-.011,-.421,-.044,-.588,-.030,-.450,-.017,-.500,-.005,-.395,-.041,-.518,-.027,-.605,-.013,-.466,-.002,-.538,-.039,-.438,-.025,-.568,-.015,-.392,-.047,-.480,-.032,-.622,-.020,-.430,-.006,-.500,-.043,-.555,-.008,-.580,-.034,-.382,-.019,-.650,-.001,-.460,-.029,-.360,-.046,-.630,
.002,-.412,.014,-.485,.027,-.552,.039,-.431,.006,-.598,.020,-.460,.033,-.510,.045,-.405,.009,-.528,.023,-.615,.037,-.476,.048,-.548,.011,-.448,.025,-.578,.035,-.402,.003,-.490,.018,-.632,.030,-.440,.044,-.510,.007,-.565,.042,-.590,.016,-.392,.031,-.655,.049,-.470,
.052,-.432,.064,-.505,.077,-.572,.089,-.451,.056,-.618,.070,-.480,.083,-.530,.095,-.425,.059,-.548,.073,-.635,.087,-.496,.098,-.568,.061,-.468,.075,-.598,.085,-.422,.053,-.510,.068,-.652,.080,-.460,.094,-.530,.057,-.585,
.102,-.452,.114,-.525,.127,-.592,.139,-.471,.106,-.638,.120,-.500,.133,-.550,.145,-.445,.109,-.568,.123,-.655,.137,-.516,.148,-.588,.111,-.488,.125,-.618,.135,-.442,.103,-.530,
.152,-.472,.164,-.545,.177,-.612,.189,-.491,.156,-.658,.170,-.520,.183,-.570,.195,-.465,.159,-.588,.173,-.675,.187,-.536,.198,-.608
];

function toPoints(flat){const out=[];for(let i=0;i+1<flat.length;i+=2)out.push({x:flat[i],y:flat[i+1]});return out;}
const FONT="'DejaVu Sans', 'Liberation Sans', sans-serif";
const fmt=v=>(v<0?'\u2212':'')+Math.abs(v).toFixed(1);

const frameTicks={
  id:'frameTicks',
  afterDatasetsDraw(chart){
    const {ctx,chartArea:a,scales:{x,y}}=chart;
    ctx.save();
    ctx.strokeStyle='#000';ctx.lineWidth=1;
    for(let k=-13;k<=7;k++){
      const v=k*0.05,px=Math.round(x.getPixelForValue(v))+0.5;
      if(px<a.left+1||px>a.right-1)continue;
      const major=xMajorTicks.some(t=>Math.abs(t-v)<1e-6);
      ctx.beginPath();ctx.moveTo(px,a.bottom);ctx.lineTo(px,a.bottom-(major?5:3));ctx.stroke();
    }
    for(let k=-18;k<=3;k++){
      const v=k*0.05,py=Math.round(y.getPixelForValue(v))+0.5;
      if(py<a.top+1||py>a.bottom-1)continue;
      const major=yMajorTicks.some(t=>Math.abs(t-v)<1e-6);
      ctx.beginPath();ctx.moveTo(a.left,py);ctx.lineTo(a.left+(major?5:3),py);ctx.stroke();
    }
    ctx.lineWidth=1.3;ctx.strokeStyle='#111';
    ctx.strokeRect(a.left,a.top,a.right-a.left,a.bottom-a.top);
    ctx.restore();
  }
};

const legendBox={
  id:'legendBox',
  afterDraw(chart){
    const {ctx,chartArea:a}=chart;
    const items=chart.data.datasets.filter(d=>seriesNames.includes(d.label));
    ctx.save();
    ctx.font="22px "+FONT;
    const tw=Math.max(...items.map(d=>ctx.measureText(d.label).width));
    const w=7+52+16+tw+10, h=75;
    const x0=a.right-11-w, y0=a.top+11.5;
    ctx.beginPath();
    if(ctx.roundRect)ctx.roundRect(x0,y0,w,h,4);else ctx.rect(x0,y0,w,h);
    ctx.fillStyle='rgba(255,255,255,0.8)';ctx.fill();
    ctx.strokeStyle='#cccccc';ctx.lineWidth=1;ctx.stroke();
    items.forEach((d,i)=>{
      const cy=y0+18.5+i*34;
      ctx.strokeStyle=d.borderColor;ctx.lineWidth=5;ctx.lineCap='butt';
      ctx.beginPath();ctx.moveTo(x0+7,cy);ctx.lineTo(x0+59,cy);ctx.stroke();
      ctx.fillStyle='#000';ctx.textBaseline='middle';ctx.textAlign='left';
      ctx.fillText(d.label,x0+75,cy+1);
    });
    ctx.restore();
  }
};

new Chart(document.getElementById('c'),{
  type:'scatter',
  data:{datasets:[
    {label:seriesNames[0],type:'line',data:fehBins.map((x,i)=>({x,y:rcMean[i]})),borderColor:'#0000ff',borderWidth:5,pointRadius:0,fill:false,tension:0,borderJoinStyle:'round',order:0},
    {label:seriesNames[1],type:'line',data:fehBins.map((x,i)=>({x,y:rgbMean[i]})),borderColor:'#ff0000',borderWidth:5,pointRadius:0,fill:false,tension:0,borderJoinStyle:'round',order:0},
    {label:seriesNames[0]+' stars',data:toPoints(rcStars),backgroundColor:'rgba(100,149,237,0.62)',borderWidth:0,pointRadius:3.5,pointHoverRadius:3.5,order:1},
    {label:seriesNames[1]+' stars',data:toPoints(rgbStars),backgroundColor:'rgba(240,128,128,0.62)',borderWidth:0,pointRadius:3.5,pointHoverRadius:3.5,order:2}
  ]},
  options:{
    responsive:false,animation:false,devicePixelRatio:1,
    layout:{padding:{top:15,right:16,left:0,bottom:0}},
    plugins:{legend:{display:false},tooltip:{enabled:false}},
    scales:{
      x:{type:'linear',min:-0.65,max:0.35,
        afterBuildTicks:s=>{s.ticks=xMajorTicks.map(v=>({value:v}));},
        afterFit:s=>{s.height=79;},
        grid:{display:false,drawTicks:false},border:{display:false},
        ticks:{callback:v=>fmt(v),font:{family:FONT,size:24},color:'#000',padding:6,maxRotation:0,autoSkip:false},
        title:{display:true,text:axisTitles[0],font:{family:FONT,size:25},color:'#000',padding:{top:17,bottom:17}}},
      y:{type:'linear',min:-0.899,max:0.148,
        afterBuildTicks:s=>{s.ticks=yMajorTicks.map(v=>({value:v}));},
        afterFit:s=>{s.width=115;},
        grid:{display:false,drawTicks:false},border:{display:false},
        ticks:{callback:v=>fmt(v),font:{family:FONT,size:24},color:'#000',padding:6,autoSkip:false},
        title:{display:true,text:axisTitles[1],font:{family:FONT,size:25},color:'#000',padding:{top:12,bottom:12}}}
    }
  },
  plugins:[frameTicks,legendBox]
});
</script>
</body></html>
